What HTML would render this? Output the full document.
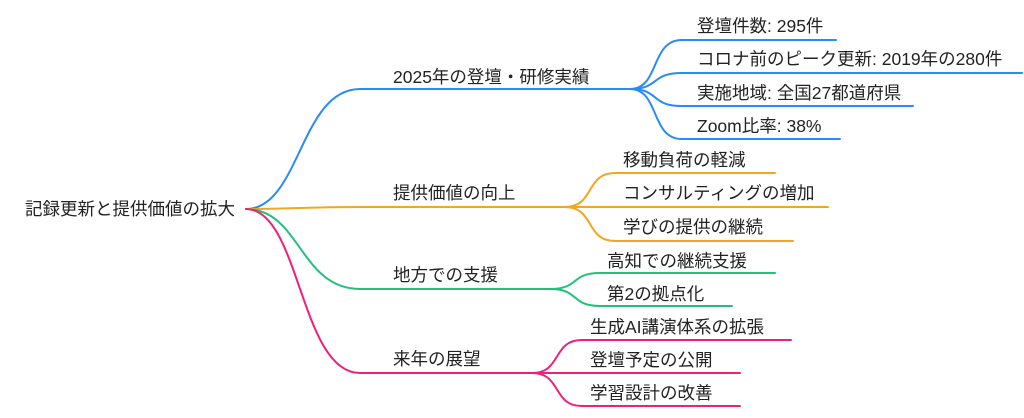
<!DOCTYPE html>
<html><head><meta charset="utf-8"><style>
html,body{margin:0;padding:0;background:#fff;width:1024px;height:418px;overflow:hidden}
svg text{font-family:"Liberation Sans","Noto Sans CJK JP",sans-serif;font-size:17.5px;fill:#222}
</style></head><body>
<svg width="1024" height="418" viewBox="0 0 1024 418" xmlns="http://www.w3.org/2000/svg">
<g fill="none" stroke-width="2" stroke-linecap="round">
<g stroke="#2a8af6">
<path d="M246,209 C300,209 300,89 360,89 L630,89"/>
<path d="M630,89 C660,89 650,40 682,40 L836,40"/>
<path d="M630,89 C660,89 650,73 682,73 L1022,73"/>
<path d="M630,89 C660,89 650,106 682,106 L913,106"/>
<path d="M630,89 C660,89 650,139 682,139 L840,139"/>
</g>
<g stroke="#f3a61f">
<path d="M246,209 C300,209 300,207 360,207 L565,207"/>
<path d="M565,207 C595,207 585,173 615,173 L775,173"/>
<path d="M565,207 C595,207 585,207 615,207 L828,207"/>
<path d="M565,207 C595,207 585,241 615,241 L793,241"/>
</g>
<g stroke="#22c07a">
<path d="M246,209 C300,209 300,289 360,289 L550,289"/>
<path d="M550,289 C580,289 570,273 600,273 L775,273"/>
<path d="M550,289 C580,289 570,306 600,306 L732,306"/>
</g>
<g stroke="#f0207a">
<path d="M246,209 C300,209 300,373 360,373 L532,373"/>
<path d="M532,373 C562,373 552,340 582,340 L791,340"/>
<path d="M532,373 C562,373 552,373 582,373 L740,373"/>
<path d="M532,373 C562,373 552,406 582,406 L740,406"/>
</g>
</g>
<text x="25" y="215">記録更新と提供価値の拡大</text>
<text x="393" y="83">2025年の登壇・研修実績</text>
<text x="697" y="32">登壇件数: 295件</text>
<text x="697" y="65">コロナ前のピーク更新: 2019年の280件</text>
<text x="697" y="99">実施地域: 全国27都道府県</text>
<text x="697" y="132">Zoom比率: 38%</text>
<text x="393" y="199">提供価値の向上</text>
<text x="623" y="166">移動負荷の軽減</text>
<text x="623" y="199">コンサルティングの増加</text>
<text x="623" y="233">学びの提供の継続</text>
<text x="393" y="281">地方での支援</text>
<text x="607" y="267">高知での継続支援</text>
<text x="607" y="300">第2の拠点化</text>
<text x="393" y="365">来年の展望</text>
<text x="590" y="333">生成AI講演体系の拡張</text>
<text x="590" y="366">登壇予定の公開</text>
<text x="590" y="399">学習設計の改善</text>
</svg>
</body></html>
